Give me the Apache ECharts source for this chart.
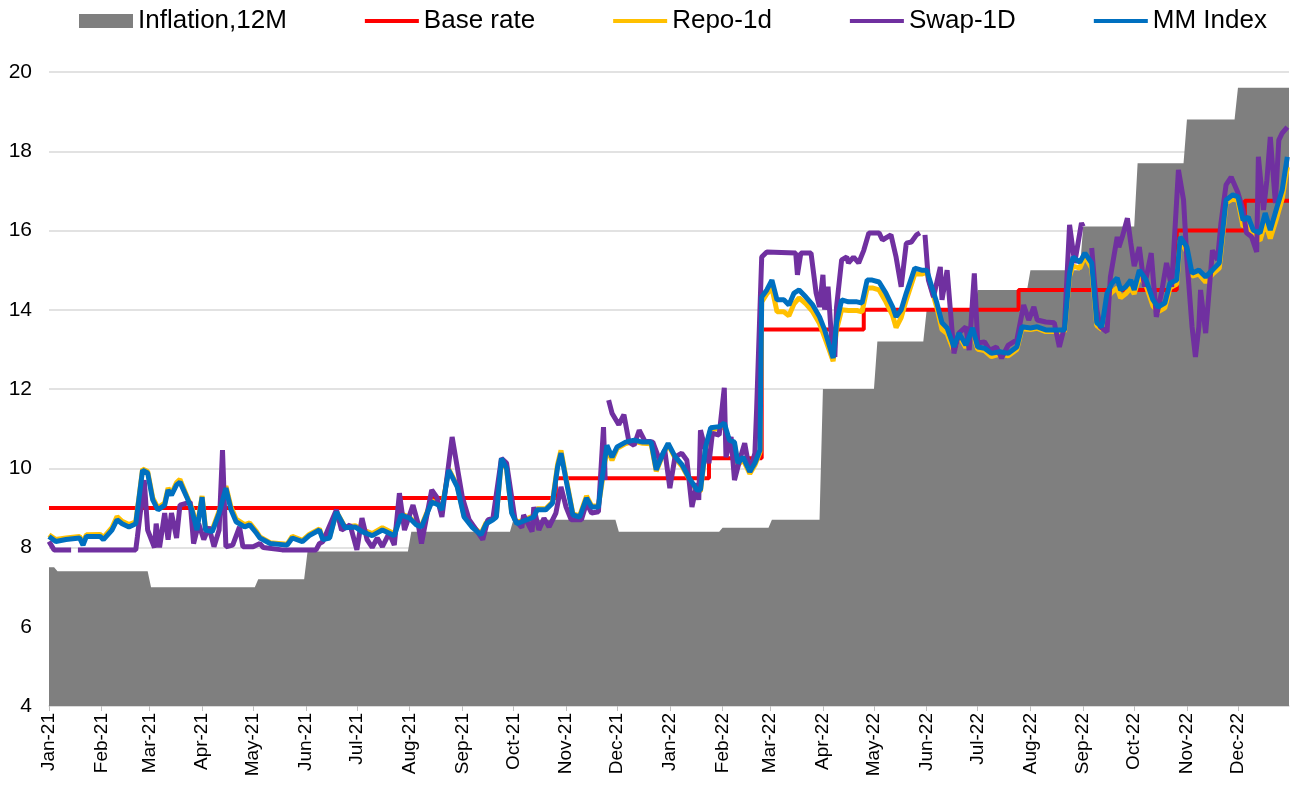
<!DOCTYPE html>
<html>
<head>
<meta charset="utf-8">
<script src="https://cdn.jsdelivr.net/npm/echarts@6/dist/echarts.min.js"></script>
<style>
  html, body { margin: 0; padding: 0; background: #fff; }
  #chart { width: 1297px; height: 785px; }
</style>
</head>
<body>
<div id="chart"></div>
<script>
// inflation, 12M (monthly, step starts)
var inflDates = ['2021-01-01','2021-01-06','2021-03-02','2021-05-04','2021-06-02','2021-08-02','2021-10-01','2021-12-02',
  '2022-02-01','2022-03-02','2022-04-01','2022-05-03','2022-06-01','2022-07-01','2022-08-01','2022-09-01','2022-10-03',
  '2022-11-01','2022-12-01','2022-12-31'];
var inflValues = [7.5, 7.4, 7.0, 7.2, 7.9, 8.4, 8.7, 8.4, 8.5, 8.7, 12.0, 13.2, 14.0, 14.5, 15.0, 16.1, 17.7, 18.8, 19.6, 19.6];

// base rate decisions
var rateDates = ['2021-01-01','2021-07-26','2021-10-26','2022-01-24','2022-02-24','2022-04-25','2022-07-25','2022-10-26','2022-12-05','2022-12-31'];
var rateValues = [9.0, 9.25, 9.75, 10.25, 13.5, 14.0, 14.5, 16.0, 16.75, 16.75];

// MM Index and Repo-1d share dates
var mmDates = ['2021-01-01','2021-01-05','2021-01-11','2021-01-19','2021-01-21','2021-01-23','2021-01-31','2021-02-02','2021-02-07',
  '2021-02-10','2021-02-13','2021-02-17','2021-02-21','2021-02-23','2021-02-25','2021-02-28','2021-03-03','2021-03-06','2021-03-10',
  '2021-03-12','2021-03-14','2021-03-17','2021-03-19','2021-03-23','2021-03-26','2021-03-29','2021-04-01','2021-04-03','2021-04-07',
  '2021-04-11','2021-04-15','2021-04-18','2021-04-21','2021-04-26','2021-04-29','2021-05-03','2021-05-05','2021-05-11','2021-05-21',
  '2021-05-24','2021-05-30','2021-06-03','2021-06-09','2021-06-11','2021-06-15','2021-06-19','2021-06-24','2021-06-30','2021-07-04',
  '2021-07-10','2021-07-16','2021-07-23','2021-07-27','2021-08-01','2021-08-05','2021-08-08','2021-08-14','2021-08-18','2021-08-20',
  '2021-08-24','2021-08-29','2021-09-02','2021-09-07','2021-09-12','2021-09-15','2021-09-19','2021-09-21','2021-09-24','2021-09-27',
  '2021-09-30','2021-10-03','2021-10-09','2021-10-13','2021-10-15','2021-10-20','2021-10-24','2021-10-27','2021-10-29','2021-11-01',
  '2021-11-05','2021-11-09','2021-11-13','2021-11-16','2021-11-20','2021-11-22','2021-11-25','2021-11-28','2021-12-01','2021-12-06',
  '2021-12-11','2021-12-16','2021-12-21','2021-12-24','2021-12-28','2021-12-31','2022-01-04','2022-01-08','2022-01-12','2022-01-17',
  '2022-01-19','2022-01-22','2022-01-25','2022-01-30','2022-02-02','2022-02-05','2022-02-08','2022-02-10','2022-02-13','2022-02-17',
  '2022-02-20','2022-02-23','2022-02-24','2022-02-27','2022-03-02','2022-03-05','2022-03-09','2022-03-12','2022-03-15','2022-03-18',
  '2022-03-22','2022-03-26','2022-03-30','2022-04-02','2022-04-05','2022-04-07','2022-04-09','2022-04-12','2022-04-16','2022-04-21',
  '2022-04-24','2022-04-27','2022-04-30','2022-05-04','2022-05-08','2022-05-12','2022-05-14','2022-05-17','2022-05-20','2022-05-25',
  '2022-05-29','2022-06-01','2022-06-04','2022-06-07','2022-06-10','2022-06-13','2022-06-17','2022-06-20','2022-06-24','2022-06-28',
  '2022-07-01','2022-07-05','2022-07-09','2022-07-14','2022-07-19','2022-07-24','2022-07-27','2022-08-01','2022-08-05','2022-08-10',
  '2022-08-16','2022-08-21','2022-08-24','2022-08-26','2022-08-30','2022-09-02','2022-09-06','2022-09-09','2022-09-12','2022-09-15',
  '2022-09-18','2022-09-21','2022-09-23','2022-09-26','2022-09-29','2022-10-01','2022-10-04','2022-10-08','2022-10-12','2022-10-15',
  '2022-10-19','2022-10-22','2022-10-26','2022-10-28','2022-11-01','2022-11-04','2022-11-08','2022-11-12','2022-11-16','2022-11-20',
  '2022-11-24','2022-11-28','2022-12-01','2022-12-04','2022-12-07','2022-12-10','2022-12-14','2022-12-17','2022-12-20','2022-12-24',
  '2022-12-27','2022-12-30'];
var mmIndex = [8.28,8.15,8.20,8.24,8.06,8.28,8.28,8.20,8.44,
  8.70,8.60,8.52,8.60,9.27,9.95,9.88,9.20,8.95,9.07,
  9.45,9.32,9.58,9.65,9.27,8.95,8.44,9.27,8.44,8.40,
  8.87,9.50,8.95,8.65,8.52,8.57,8.36,8.24,8.10,8.06,
  8.24,8.15,8.30,8.44,8.20,8.24,8.90,8.50,8.52,8.40,
  8.30,8.44,8.30,8.82,8.74,8.57,8.52,9.15,9.07,8.95,
  9.95,9.53,8.77,8.50,8.32,8.60,8.70,8.77,10.25,10.00,
  8.87,8.60,8.70,8.77,8.95,8.95,9.12,10.03,10.38,9.70,
  8.82,8.77,9.25,9.02,9.02,9.70,10.58,10.28,10.54,10.66,
  10.71,10.66,10.66,9.96,10.38,10.63,10.30,10.10,9.78,9.45,
  9.45,10.54,11.02,11.05,11.14,10.71,10.66,10.13,10.28,9.91,
  10.13,10.46,14.32,14.50,14.75,14.25,14.25,14.12,14.42,14.50,
  14.32,14.12,13.82,13.49,13.06,12.78,13.67,14.25,14.20,14.20,
  14.17,14.75,14.75,14.70,14.42,14.07,13.82,14.00,14.42,15.05,
  15.00,15.00,14.58,14.17,13.67,13.54,13.06,13.41,13.11,13.54,
  13.06,13.03,12.90,12.94,12.90,13.06,13.57,13.54,13.57,13.49,
  13.49,13.49,14.92,15.33,15.20,15.43,15.18,13.67,13.57,14.42,
  14.67,14.80,14.50,14.58,14.75,14.50,15.00,14.75,14.25,14.07,
  14.17,14.67,14.75,15.84,15.58,14.92,15.00,14.83,15.00,15.18,
  16.77,16.90,16.85,16.26,16.34,16.01,15.94,16.44,16.01,16.60,
  17.02,17.86];
var repo1d = [8.32,8.20,8.24,8.28,8.12,8.32,8.33,8.25,8.50,
  8.78,8.66,8.58,8.65,9.30,9.98,9.92,9.25,9.00,9.12,
  9.50,9.36,9.64,9.72,9.30,9.00,8.50,9.30,8.50,8.45,
  8.92,9.55,9.02,8.72,8.58,8.62,8.40,8.27,8.12,8.08,
  8.28,8.18,8.33,8.47,8.22,8.27,8.90,8.52,8.55,8.45,
  8.35,8.50,8.35,8.85,8.76,8.60,8.55,9.18,9.10,8.98,
  9.98,9.56,8.80,8.53,8.35,8.63,8.73,8.80,10.20,9.98,
  8.90,8.63,8.73,8.80,8.98,8.98,9.15,10.10,10.45,9.75,
  8.85,8.80,9.30,9.05,9.05,9.60,10.50,10.20,10.50,10.62,
  10.68,10.63,10.62,9.92,10.35,10.60,10.26,10.06,9.75,9.42,
  9.42,10.50,10.98,11.00,11.05,10.66,10.60,10.08,10.22,9.86,
  10.08,10.40,14.20,14.40,14.55,13.95,13.95,13.85,14.15,14.30,
  14.15,13.95,13.65,13.30,12.95,12.70,13.50,14.00,13.98,13.98,
  13.95,14.55,14.55,14.50,14.20,13.85,13.55,13.80,14.25,14.90,
  14.90,14.95,14.50,14.05,13.50,13.40,12.95,13.35,13.05,13.45,
  13.00,12.97,12.82,12.88,12.84,13.00,13.52,13.50,13.53,13.45,
  13.45,13.45,14.85,15.10,15.05,15.35,15.05,13.60,13.50,14.30,
  14.45,14.55,14.30,14.40,14.55,14.40,14.85,14.60,14.10,13.95,
  14.05,14.55,14.65,15.75,15.45,14.85,14.90,14.70,14.90,15.05,
  16.70,16.80,16.75,16.10,16.15,15.85,15.75,16.20,15.80,16.35,
  16.80,17.60];

// Swap-1D (null = no quote)
var swapDates = ['2021-01-01','2021-01-04','2021-01-14','2021-01-16','2021-01-18','2021-02-21','2021-02-22','2021-02-26','2021-02-28',
  '2021-03-04','2021-03-05','2021-03-07','2021-03-10','2021-03-12','2021-03-14','2021-03-17','2021-03-19','2021-03-23','2021-03-25',
  '2021-03-27','2021-03-30','2021-04-02','2021-04-05','2021-04-08','2021-04-11','2021-04-13','2021-04-15','2021-04-19','2021-04-23',
  '2021-04-25','2021-05-01','2021-05-05','2021-05-07','2021-05-18','2021-06-07','2021-06-09','2021-06-11','2021-06-19','2021-06-22',
  '2021-06-27','2021-07-01','2021-07-04','2021-07-07','2021-07-10','2021-07-13','2021-07-16','2021-07-20','2021-07-23','2021-07-26',
  '2021-07-29','2021-08-03','2021-08-06','2021-08-08','2021-08-14','2021-08-17','2021-08-20','2021-08-26','2021-08-29','2021-09-01',
  '2021-09-05','2021-09-08','2021-09-13','2021-09-16','2021-09-19','2021-09-24','2021-09-27','2021-10-02','2021-10-06','2021-10-07',
  '2021-10-12','2021-10-13','2021-10-16','2021-10-19','2021-10-22','2021-10-26','2021-10-29','2021-11-01','2021-11-04','2021-11-10',
  '2021-11-13','2021-11-16','2021-11-20','2021-11-23','2021-11-24','2021-11-25','2021-11-26','2021-11-28','2021-12-02','2021-12-05',
  '2021-12-08','2021-12-11','2021-12-14','2021-12-17','2021-12-22','2021-12-26','2021-12-29','2022-01-01','2022-01-04','2022-01-08',
  '2022-01-11','2022-01-14','2022-01-17','2022-01-18','2022-01-19','2022-01-22','2022-01-24','2022-01-26','2022-01-30','2022-02-02',
  '2022-02-03','2022-02-06','2022-02-08','2022-02-11','2022-02-14','2022-02-17','2022-02-20','2022-02-21','2022-02-24','2022-02-27',
  '2022-03-16','2022-03-17','2022-03-19','2022-03-25','2022-03-28','2022-03-30','2022-04-01','2022-04-02','2022-04-04','2022-04-06',
  '2022-04-08','2022-04-09','2022-04-12','2022-04-15','2022-04-16','2022-04-19','2022-04-22','2022-04-25','2022-04-28','2022-05-04',
  '2022-05-06','2022-05-11','2022-05-14','2022-05-17','2022-05-20','2022-05-23','2022-05-26','2022-05-28','2022-05-29','2022-05-31',
  '2022-06-02','2022-06-05','2022-06-09','2022-06-10','2022-06-13','2022-06-17','2022-06-20','2022-06-24','2022-06-26','2022-06-29',
  '2022-07-01','2022-07-05','2022-07-08','2022-07-12','2022-07-15','2022-07-19','2022-07-24','2022-07-28','2022-07-31','2022-08-03',
  '2022-08-05','2022-08-10','2022-08-15','2022-08-18','2022-08-21','2022-08-24','2022-08-27','2022-08-31','2022-09-01','2022-09-03',
  '2022-09-06','2022-09-09','2022-09-11','2022-09-15','2022-09-17','2022-09-21','2022-09-22','2022-09-24','2022-09-27','2022-09-29',
  '2022-10-01','2022-10-04','2022-10-07','2022-10-11','2022-10-14','2022-10-17','2022-10-20','2022-10-23','2022-10-27','2022-10-30',
  '2022-11-01','2022-11-04','2022-11-06','2022-11-08','2022-11-09','2022-11-12','2022-11-13','2022-11-16','2022-11-19','2022-11-21',
  '2022-11-24','2022-11-27','2022-12-01','2022-12-04','2022-12-06','2022-12-09','2022-12-12','2022-12-13','2022-12-16','2022-12-18',
  '2022-12-20','2022-12-23','2022-12-25','2022-12-27','2022-12-30'];
var swap1d = [8.15,7.94,7.94,null,7.94,7.94,8.28,9.70,8.44,
  8.00,8.60,8.00,8.87,8.20,8.87,8.24,9.07,9.12,9.15,
  8.10,8.60,8.20,8.52,8.02,8.44,10.46,8.02,8.06,8.52,
  8.02,8.02,8.10,8.00,7.94,7.94,8.10,8.15,8.95,8.44,
  8.57,7.94,8.74,8.20,8.00,8.24,8.02,8.36,8.06,9.37,
  8.44,9.07,8.60,8.10,9.45,9.27,8.77,10.79,10.03,9.27,
  8.70,8.52,8.20,8.70,8.74,10.25,10.13,8.70,8.50,8.82,
  8.40,9.02,8.44,8.74,8.52,8.87,9.53,9.02,8.70,8.70,
  9.12,8.87,8.90,11.04,9.70,null,11.72,11.39,11.10,11.35,
  10.66,10.58,10.96,10.71,10.66,10.20,10.46,9.50,10.28,10.38,
  10.20,9.02,9.62,9.20,10.96,10.46,10.13,10.88,10.84,12.03,
  10.28,10.79,9.70,10.20,10.63,9.91,10.38,11.47,15.33,15.46,
  15.43,14.88,15.43,15.43,14.42,14.07,14.88,14.00,14.58,13.31,
  12.81,14.07,15.26,15.33,15.18,15.33,15.18,15.50,15.94,15.94,
  15.76,15.89,15.33,14.58,15.68,15.71,15.89,15.94,null,15.89,
  14.75,14.32,15.08,14.25,15.00,12.90,13.41,13.57,12.98,14.92,
  13.16,13.19,12.98,13.06,12.78,13.11,13.24,14.12,13.74,14.07,
  13.74,13.69,13.67,13.06,13.57,16.14,15.18,16.19,16.10,null,
  15.56,14.00,13.57,13.44,14.83,15.84,15.58,15.84,16.31,15.68,
  15.10,15.58,14.58,15.43,13.82,14.42,15.18,14.58,17.53,16.77,
  15.26,13.57,12.81,13.57,14.50,13.41,13.41,15.50,15.26,16.19,
  17.15,17.35,16.95,16.52,15.94,15.84,15.46,17.86,16.52,17.27,
  18.36,16.69,18.28,18.46,18.61];

var monthNames = ['Jan','Feb','Mar','Apr','May','Jun','Jul','Aug','Sep','Oct','Nov','Dec'];
var DAY = 86400000;

function pairs(dates, values) {
  return dates.map(function (d, i) { return [d, values[i]]; });
}

// flat steps with a short ramp, like the monthly area in the source
function inflSteps() {
  var out = [];
  for (var i = 0; i < inflDates.length - 1; i++) {
    var next = +echarts.time.parse(inflDates[i + 1]);
    out.push([inflDates[i], inflValues[i]]);
    out.push([next - 2 * DAY, inflValues[i]]);
  }
  out.push([inflDates[inflDates.length - 1], inflValues[inflValues.length - 1]]);
  return out;
}

// thin bar inside the legend box (outer M points keep the box size)
var lineIcon = 'path://M0,0 M0,5 L54,5 L54,9 L0,9 Z M54,14';

var chart = echarts.init(document.getElementById('chart'));
var font = '"Liberation Sans", Arial, sans-serif';

chart.setOption({
  animation: false,
  textStyle: { fontFamily: font },
  legend: {
    top: 3,
    left: 74,
    itemGap: 78,
    itemWidth: 54,
    itemHeight: 14,
    textStyle: { fontSize: 26, color: '#000', fontFamily: font },
    data: [
      { name: 'Inflation,12M', icon: 'rect' },
      { name: 'Base rate', icon: lineIcon },
      { name: 'Repo-1d', icon: lineIcon },
      { name: 'Swap-1D', icon: lineIcon },
      { name: 'MM Index', icon: lineIcon }
    ]
  },
  grid: { left: 49, right: 8, top: 72, bottom: 79, containLabel: false },
  xAxis: {
    type: 'time',
    min: '2021-01-01',
    max: '2022-12-31',
    minInterval: 28 * DAY,
    maxInterval: 31 * DAY,
    splitNumber: 24,
    axisLine: { lineStyle: { color: '#d9d9d9', width: 1.5 } },
    axisTick: { show: true, length: 5, lineStyle: { color: '#bfbfbf' } },
    splitLine: { show: false },
    axisLabel: {
      rotate: 90,
      margin: 7,
      fontSize: 19,
      color: '#000',
      fontFamily: font,
      showMaxLabel: false,
      hideOverlap: false,
      formatter: function (val) {
        var d = new Date(val);
        return monthNames[d.getMonth()] + '-' + String(d.getFullYear()).slice(2);
      }
    }
  },
  yAxis: {
    type: 'value',
    min: 4,
    max: 20,
    interval: 2,
    axisLine: { show: false },
    axisTick: { show: false },
    axisLabel: { fontSize: 21, color: '#000', margin: 17, fontFamily: font },
    splitLine: { lineStyle: { color: '#d9d9d9', width: 1.5 } }
  },
  series: [
    {
      name: 'Inflation,12M',
      type: 'line',
      data: inflSteps(),
      symbol: 'none',
      lineStyle: { width: 0 },
      itemStyle: { color: '#7f7f7f' },
      areaStyle: { color: '#7f7f7f', opacity: 1, origin: 'start' },
      z: 1
    },
    {
      name: 'Base rate',
      type: 'line',
      step: 'end',
      data: pairs(rateDates, rateValues),
      symbol: 'none',
      itemStyle: { color: '#ff0000' },
      lineStyle: { color: '#ff0000', width: 4 },
      z: 2
    },
    {
      name: 'Repo-1d',
      type: 'line',
      data: pairs(mmDates, repo1d),
      symbol: 'none',
      itemStyle: { color: '#ffc000' },
      lineStyle: { color: '#ffc000', width: 5 },
      z: 3
    },
    {
      name: 'Swap-1D',
      type: 'line',
      data: pairs(swapDates, swap1d),
      symbol: 'none',
      connectNulls: false,
      itemStyle: { color: '#7030a0' },
      lineStyle: { color: '#7030a0', width: 5 },
      z: 4
    },
    {
      name: 'MM Index',
      type: 'line',
      data: pairs(mmDates, mmIndex),
      symbol: 'none',
      itemStyle: { color: '#0070c0' },
      lineStyle: { color: '#0070c0', width: 5 },
      z: 5
    }
  ]
});
</script>
</body>
</html>
